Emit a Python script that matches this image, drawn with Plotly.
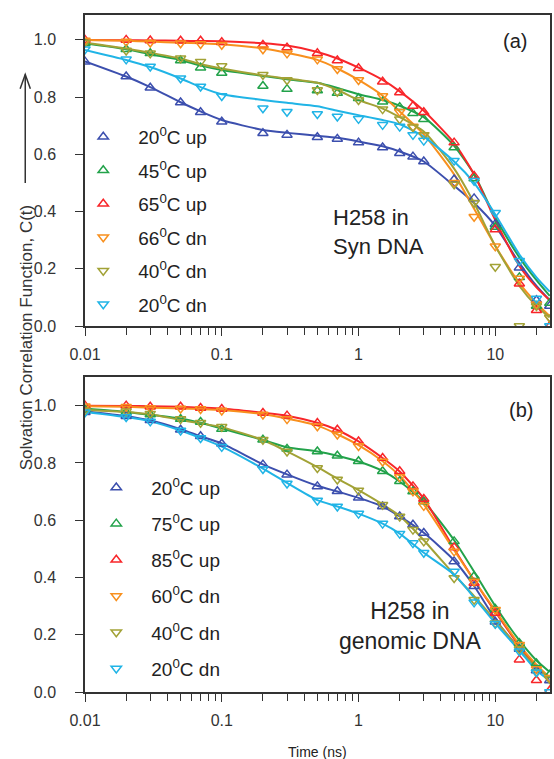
import plotly.graph_objects as go
from plotly.subplots import make_subplots

# sample times (ns)
t = [0.01, 0.02, 0.03, 0.05, 0.07, 0.1, 0.2, 0.3, 0.5, 0.7, 1, 1.5, 2, 2.5, 3, 5, 7, 10, 15, 20, 25]
# times at which the fitted curves were read
t_fit = [0.01, 0.02, 0.03, 0.05, 0.07, 0.1, 0.2, 0.3, 0.5, 0.7, 1, 1.5, 2, 3, 5, 7, 10, 15, 20, 25]

# (a) H258 in Syn DNA
a_labels = ["20<sup>0</sup>C up", "45<sup>0</sup>C up", "65<sup>0</sup>C up",
            "66<sup>0</sup>C dn", "40<sup>0</sup>C dn", "20<sup>0</sup>C dn"]
a_20up = [0.924, 0.872, 0.833, 0.781, 0.747, 0.714, 0.674, 0.668, 0.660, 0.654, 0.641, 0.624, 0.604, 0.592, 0.575, 0.512, 0.446, 0.356, 0.204, 0.09, 0.07]
a_45up = [0.988, 0.967, 0.953, 0.928, 0.903, 0.884, 0.839, 0.828, 0.823, 0.814, 0.796, 0.784, 0.765, 0.744, 0.723, 0.624, 0.516, 0.346, 0.17, 0.07, 0.08]
a_65up = [1.0, 1.0, 0.998, 0.997, 0.997, 0.992, 0.982, 0.973, 0.953, 0.928, 0.901, 0.854, 0.816, 0.769, 0.747, 0.641, 0.524, 0.337, 0.148, 0.055, 0.0]
a_66dn = [0.998, 0.994, 0.991, 0.988, 0.986, 0.983, 0.967, 0.953, 0.932, 0.898, 0.860, 0.804, 0.749, 0.697, 0.668, 0.501, 0.382, 0.279, 0.166, 0.076, 0.03]
a_40dn = [0.991, 0.963, 0.953, 0.936, 0.924, 0.909, 0.878, 0.860, 0.825, 0.819, 0.790, 0.758, 0.723, 0.695, 0.668, 0.495, 0.431, 0.207, 0.0, 0.07, 0.03]
a_20dn = [0.967, 0.932, 0.907, 0.866, 0.837, 0.804, 0.761, 0.749, 0.741, 0.732, 0.724, 0.703, 0.697, 0.668, 0.648, 0.578, 0.508, 0.396, 0.228, 0.096, 0.0]

a_fit_20up = [0.925, 0.872, 0.835, 0.782, 0.750, 0.720, 0.685, 0.675, 0.665, 0.658, 0.645, 0.628, 0.610, 0.575, 0.490, 0.430, 0.350, 0.220, 0.140, 0.090]
a_fit_45up = [0.988, 0.967, 0.950, 0.930, 0.910, 0.895, 0.874, 0.862, 0.850, 0.832, 0.810, 0.790, 0.770, 0.730, 0.630, 0.530, 0.380, 0.240, 0.160, 0.105]
a_fit_65up = [1.0, 0.999, 0.998, 0.997, 0.996, 0.995, 0.988, 0.980, 0.958, 0.935, 0.903, 0.860, 0.820, 0.752, 0.640, 0.530, 0.370, 0.210, 0.135, 0.090]
a_fit_66dn = [1.0, 0.997, 0.994, 0.990, 0.988, 0.985, 0.970, 0.955, 0.930, 0.900, 0.860, 0.805, 0.750, 0.670, 0.530, 0.410, 0.280, 0.150, 0.080, 0.035]
a_fit_40dn = [0.990, 0.970, 0.955, 0.935, 0.915, 0.900, 0.876, 0.865, 0.850, 0.825, 0.790, 0.760, 0.730, 0.680, 0.550, 0.430, 0.280, 0.140, 0.070, 0.030]
a_fit_20dn = [0.965, 0.930, 0.905, 0.865, 0.835, 0.810, 0.790, 0.780, 0.768, 0.752, 0.737, 0.720, 0.705, 0.662, 0.575, 0.500, 0.390, 0.250, 0.170, 0.120]

# (b) H258 in genomic DNA
b_labels = ["20<sup>0</sup>C up", "75<sup>0</sup>C up", "85<sup>0</sup>C up",
            "60<sup>0</sup>C dn", "40<sup>0</sup>C dn", "20<sup>0</sup>C dn"]
b_20up = [0.977, 0.963, 0.949, 0.916, 0.893, 0.867, 0.794, 0.759, 0.718, 0.701, 0.678, 0.648, 0.613, 0.584, 0.555, 0.456, 0.369, 0.245, 0.15, 0.075, 0.04]
b_75up = [0.986, 0.977, 0.969, 0.953, 0.943, 0.918, 0.881, 0.849, 0.840, 0.825, 0.806, 0.771, 0.736, 0.700, 0.665, 0.526, 0.404, 0.29, 0.17, 0.10, 0.06]
b_85up = [1.0, 1.0, 0.996, 0.996, 0.992, 0.988, 0.974, 0.965, 0.939, 0.916, 0.875, 0.817, 0.771, 0.718, 0.674, 0.505, 0.381, 0.276, 0.113, 0.041, 0.005]
b_60dn = [0.998, 0.996, 0.992, 0.990, 0.988, 0.983, 0.969, 0.953, 0.928, 0.899, 0.859, 0.805, 0.751, 0.701, 0.650, 0.491, 0.386, 0.287, 0.165, 0.08, 0.05]
b_40dn = [0.983, 0.980, 0.972, 0.953, 0.940, 0.926, 0.881, 0.840, 0.782, 0.742, 0.704, 0.654, 0.613, 0.567, 0.526, 0.398, 0.322, 0.24, 0.15, 0.07, 0.045]
b_20dn = [0.977, 0.960, 0.945, 0.913, 0.887, 0.856, 0.779, 0.728, 0.669, 0.648, 0.623, 0.588, 0.553, 0.520, 0.486, 0.421, 0.313, 0.238, 0.142, 0.069, 0.0]

b_fit_20up = [0.980, 0.963, 0.948, 0.918, 0.893, 0.868, 0.795, 0.760, 0.720, 0.700, 0.678, 0.648, 0.613, 0.556, 0.460, 0.370, 0.255, 0.150, 0.085, 0.050]
b_fit_75up = [0.990, 0.978, 0.968, 0.955, 0.940, 0.920, 0.880, 0.855, 0.840, 0.825, 0.805, 0.772, 0.735, 0.665, 0.530, 0.420, 0.300, 0.180, 0.110, 0.070]
b_fit_85up = [1.0, 0.999, 0.998, 0.996, 0.993, 0.990, 0.975, 0.965, 0.940, 0.915, 0.875, 0.817, 0.770, 0.675, 0.500, 0.390, 0.280, 0.160, 0.090, 0.050]
b_fit_60dn = [0.998, 0.996, 0.993, 0.990, 0.988, 0.985, 0.970, 0.955, 0.930, 0.900, 0.862, 0.806, 0.755, 0.655, 0.495, 0.390, 0.285, 0.165, 0.095, 0.050]
b_fit_40dn = [0.985, 0.978, 0.970, 0.950, 0.938, 0.925, 0.880, 0.840, 0.785, 0.745, 0.705, 0.655, 0.615, 0.530, 0.410, 0.335, 0.250, 0.150, 0.085, 0.050]
b_fit_20dn = [0.978, 0.960, 0.945, 0.913, 0.887, 0.857, 0.780, 0.730, 0.670, 0.648, 0.623, 0.588, 0.553, 0.486, 0.410, 0.330, 0.240, 0.145, 0.075, 0.040]

colors = ['#3c4fae', '#22a24a', '#f8262a', '#f8901e', '#a2a236', '#20b4e6']
symbols = ['triangle-up-open'] * 3 + ['triangle-down-open'] * 3

panels = [
    (1, 'legend', a_labels, [a_20up, a_45up, a_65up, a_66dn, a_40dn, a_20dn],
     [a_fit_20up, a_fit_45up, a_fit_65up, a_fit_66dn, a_fit_40dn, a_fit_20dn]),
    (2, 'legend2', b_labels, [b_20up, b_75up, b_85up, b_60dn, b_40dn, b_20dn],
     [b_fit_20up, b_fit_75up, b_fit_85up, b_fit_60dn, b_fit_40dn, b_fit_20dn]),
]

fig = make_subplots(rows=2, cols=1)

for row, leg, labels, series, fits in panels:
    # fitted curves first so markers sit on top
    for i, f in enumerate(fits):
        fig.add_trace(go.Scatter(
            x=t_fit, y=f, mode='lines', line=dict(color=colors[i], width=2, shape='spline', smoothing=0.6),
            showlegend=False, hoverinfo='skip'), row=row, col=1)
    for i, s in enumerate(series):
        fig.add_trace(go.Scatter(
            x=t, y=s, mode='markers', name=labels[i], legend=leg, legendgroup=f'{leg}{i}',
            marker=dict(symbol=symbols[i], size=9, color=colors[i], line=dict(color=colors[i], width=1.5))),
            row=row, col=1)

axis_line = '#333333'
xax = dict(type='log', range=[-2, 1.4], tickvals=[0.01, 0.1, 1, 10], ticktext=['0.01', '0.1', '1', '10'],
           ticks='outside', ticklen=8, tickwidth=1.3, tickcolor=axis_line, ticklabelstandoff=5,
           minor=dict(ticks='outside', ticklen=7, tickwidth=1.2, tickcolor=axis_line, dtick='D1', showgrid=False),
           showline=True, linecolor=axis_line, linewidth=1.5, mirror=True, showgrid=False, zeroline=False,
           tickfont=dict(size=16, color='#333333'))
yax = dict(dtick=0.2, tickformat='.1f', ticks='outside', ticklen=8, tickwidth=1.3, tickcolor=axis_line,
           ticklabelstandoff=16,
           showline=True, linecolor=axis_line, linewidth=1.5, mirror=True, showgrid=False, zeroline=False,
           tickfont=dict(size=16, color='#333333'))

fig.update_layout(
    width=554, height=759,
    margin=dict(l=85, r=2, t=15, b=67),
    paper_bgcolor='white', plot_bgcolor='white',
    font=dict(family='Liberation Sans, Arial', color='#222222'),
    xaxis=dict(xax, domain=[0, 1]),
    xaxis2=dict(xax, domain=[0, 1]),
    yaxis=dict(yax, domain=[0.5406, 1], range=[0, 1.087]),
    yaxis2=dict(yax, domain=[0, 0.4653], range=[0, 1.1]),
    legend=dict(x=-0.036, y=0.848, xanchor='left', yanchor='top', bgcolor='rgba(0,0,0,0)',
                font=dict(size=19, color='#222222'), itemwidth=60, tracegroupgap=5.8),
    legend2=dict(x=-0.008, y=0.33, xanchor='left', yanchor='top', bgcolor='rgba(0,0,0,0)',
                 font=dict(size=19, color='#222222'), itemwidth=60, tracegroupgap=8.5),
    showlegend=True,
)

fig.add_annotation(text='H258 in<br>Syn DNA', xref='paper', yref='paper', x=0.53, y=0.68,
                   xanchor='left', yanchor='middle', align='left', showarrow=False,
                   font=dict(size=22, color='#222222'))
fig.add_annotation(text='(a)', xref='paper', yref='paper', x=0.925, y=0.962,
                   xanchor='center', yanchor='middle', showarrow=False, font=dict(size=20, color='#222222'))
fig.add_annotation(text='H258 in<br>genomic DNA', xref='paper', yref='paper', x=0.70, y=0.098,
                   xanchor='center', yanchor='middle', align='center', showarrow=False,
                   font=dict(size=23, color='#222222'))
fig.add_annotation(text='(b)', xref='paper', yref='paper', x=0.938, y=0.417,
                   xanchor='center', yanchor='middle', showarrow=False, font=dict(size=20, color='#222222'))
fig.add_annotation(text='Time (ns)', xref='paper', yref='paper', x=0.5, y=-0.088,
                   xanchor='center', yanchor='middle', showarrow=False, font=dict(size=14, color='#222222'))
fig.add_annotation(text='Solvation Correlation Function, C(t)', xref='paper', yref='paper',
                   x=-0.124, y=0.5245, textangle=-90, xanchor='center', yanchor='middle', showarrow=False,
                   font=dict(size=17, color='#333333', family='Liberation Sans Narrow, Arial Narrow, Liberation Sans'))

# upward arrow above the y title
ax_x = -0.1285
fig.add_shape(type='line', xref='paper', yref='paper', x0=ax_x, x1=ax_x, y0=0.752, y1=0.912,
              line=dict(color='#333333', width=1.5))
fig.add_shape(type='path', xref='paper', yref='paper',
              path=f'M {ax_x - 0.011},{0.891} L {ax_x},{0.912} L {ax_x + 0.011},{0.891}',
              line=dict(color='#333333', width=1.5))

fig.write_html("out.html", config={'displayModeBar': False},
               post_script="document.body.style.margin='0px';document.body.style.overflow='hidden';")
